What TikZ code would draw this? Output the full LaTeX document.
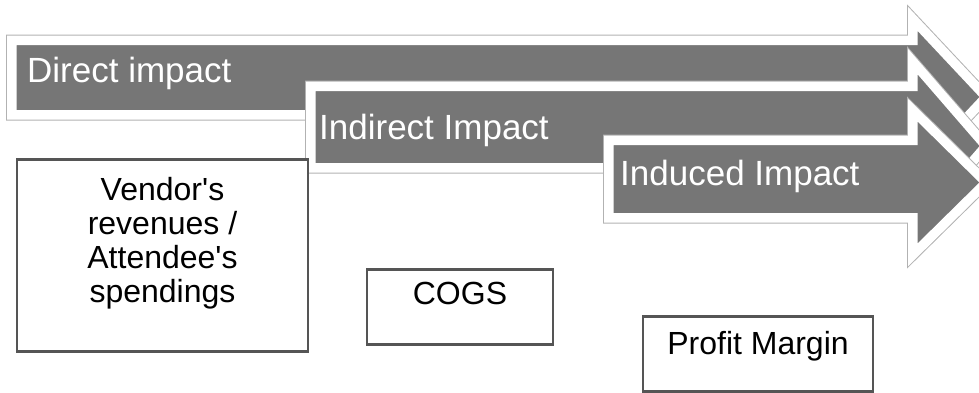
\documentclass[tikz,border=0pt]{standalone}
\usepackage{fontspec}
\setmainfont{Liberation Sans}[Ligatures=TeXOff]
\usetikzlibrary{positioning}
\definecolor{impactgray}{RGB}{118,118,118}
\definecolor{rimgray}{RGB}{178,178,178}
\definecolor{boxgray}{RGB}{85,85,85}
\tikzset{
  impact/.style={fill=impactgray,draw=white,line width=5pt,
    preaction={draw=rimgray,line width=1pt,double=white,double distance=14pt}},
  impactlab/.style={anchor=base west,inner sep=0pt,text=white,
    font=\fontsize{35}{40}\selectfont},
  stage/.style={draw=boxgray,line width=2.5pt,fill=white,inner sep=0pt,
    anchor=north,align=center,font=\fontsize{32}{34}\selectfont}
}

\begin{document}
\begin{tikzpicture}[x=1pt,y=-1pt]
  \useasboundingbox (0,0) rectangle (979,392);
  % the three impact arrows, each one over the one before
  \draw[impact] (14,42.5) -- (915,42.5) -- (915,24.5) -- (983,97)
    -- (915,169.5) -- (915,112.5) -- (14,112.5) -- cycle;
  \node[impactlab] (direct) at (27,82) {Direct impact};
  \draw[impact] (313,88.5) -- (915,88.5) -- (915,67.5) -- (983,146)
    -- (915,224.5) -- (915,165.5) -- (313,165.5) -- cycle;
  \node[impactlab] (indirect) at (319,139) {Indirect Impact};
  \draw[impact] (611,142.5) -- (915,142.5) -- (915,115.5) -- (983,182.5)
    -- (915,249.5) -- (915,215.5) -- (611,215.5) -- cycle;
  \node[impactlab] (induced) at (620,185) {Induced Impact};
  % what each impact is measured on
  \node[stage,minimum width=291pt,text height=143pt,text depth=49pt]
    (vendor) at (162.5,158) {Vendor's\\revenues /\\Attendee's\\spendings};
  \node[stage,minimum width=186pt,text height=35pt,text depth=40pt]
    (cogs) at (460,268) {COGS};
  \node[stage,minimum width=230pt,text height=38pt,text depth=37pt]
    (margin) at (758,315) {Profit Margin};
\end{tikzpicture}
\end{document}
